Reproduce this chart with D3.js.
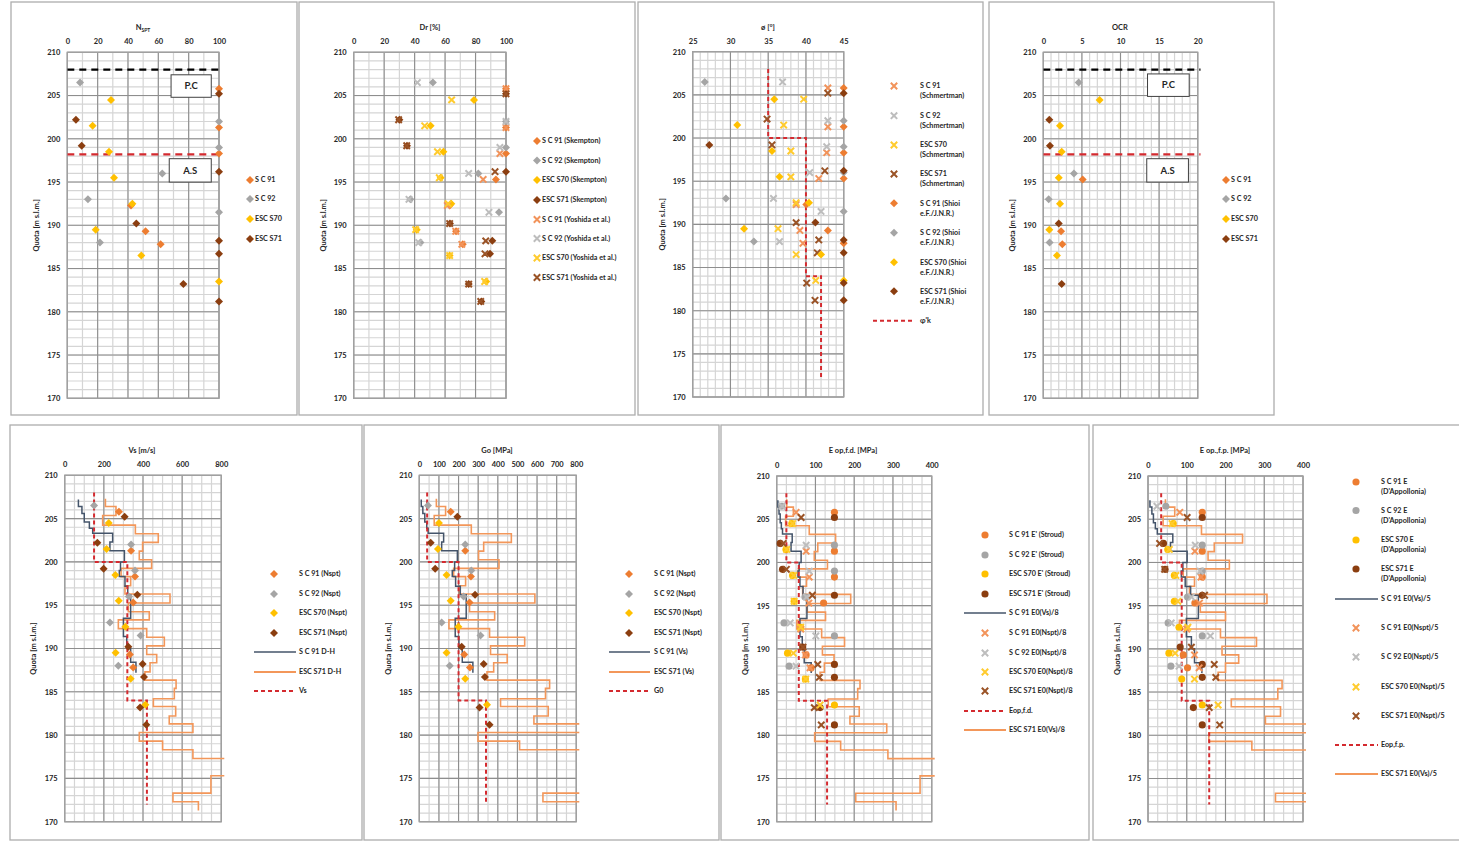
<!DOCTYPE html>
<html><head><meta charset="utf-8">
<script src="https://cdn.jsdelivr.net/npm/d3@7"></script>
<style>
body{margin:0;background:#fff;}
svg{display:block;}
</style></head><body>
<svg id="c" width="1459" height="843"></svg>
<script>
// ---------------- DATA ----------------
// sample depths (Quota, m s.l.m.) per borehole
const depthSC91 = [205.8, 201.3, 198.3, 195.3, 192.3, 189.3, 187.8];
const depthSC92 = [206.5, 202.0, 199.0, 196.0, 193.0, 191.5, 188.0];
const depthS70  = [204.5, 201.5, 198.5, 195.5, 192.5, 189.5, 186.5, 183.5];
const depthS71  = [205.2, 202.2, 199.2, 196.2, 190.2, 188.2, 186.7, 183.2, 181.2];

// N_SPT
const nsptSC91 = [100, 100, 100, null, 42, 51.6, 61.5];
const nsptSC92 = [8.4, 100, 100, 62.6, 13.6, 100, 21.5];
const nsptS70  = [28.8, 16.7, 27.5, 30.8, 42.9, 18.7, 48.8, 100];
const nsptS71  = [100, 5.7, 9.5, 100, 45.5, 100, 100, 76.5, 100];

// Dr [%]
const drSkSC91 = [100, 100, 100, 93.4, 63, 67.2, 71.6];
const drSkSC92 = [52, 100, 100, 81.8, 37.2, 95.4, 43.8];
const drSkS70  = [79, 50.5, 58.9, 57.1, 64.1, 41.4, 63, 87];
const drSkS71  = [100, 30, 35, 100, 63.2, 91, 89.5, 75.5, 83.8];
const drYoSC91 = [100, 100, 96, 85, 61.5, 67, 71];
const drYoSC92 = [41.8, 100, 96, 75.5, 36.3, 88.8, 42.7];
const drYoS70  = [64.3, 46.6, 55, 56.2, 62, 40.7, 63, 86];
const drYoS71  = [100, 29.5, 34.8, 92.8, 63, 86.7, 86.2, 75.5, 83.4];

// phi [deg]
const phiSchSC91 = [42.9, 42.9, 42.75, 41.7, 38.7, 39.2, 39.6];
const phiSchSC92 = [36.9, 42.9, 42.75, 40.5, 35.7, 42.0, 36.5];
const phiSchS70  = [39.7, 37.05, 38.0, 38.0, 38.7, 36.3, 38.7, 41.3];
const phiSchS71  = [42.9, 34.85, 35.5, 42.5, 38.7, 41.7, 41.5, 40.1, 41.2];
const phiShSC91  = [45, 45, 45, 45, 40.05, 42.9, 45];
const phiShSC92  = [26.6, 45, 45, 45, 29.4, 45, 33.1];
const phiShS70   = [35.8, 30.9, 35.5, 36.5, 40.4, 31.8, 42.0, 45];
const phiShS71   = [45, null, 27.2, 45, 41.25, 45, 45, 45, 45];
const phiKDepths = [208, 200, 184, 172];
const phiKValues = [35, 40, 42];

// OCR
const ocrSC91 = [null, null, null, 5.1, null, 2.3, 2.46];
const ocrSC92 = [4.58, null, null, 3.97, 0.7, null, 0.82];
const ocrS70  = [7.3, 2.16, 2.38, 2.0, 2.16, 0.78, 1.77, null];
const ocrS71  = [null, 0.78, 0.86, null, 2.0, null, null, 2.38, null];

// reference levels
const levelPC = 208.0;
const levelAS = 198.2;

// Vs [m/s] from Nspt
const vsSC91 = [277, 339, 359, 350, null, 333, 350];
const vsSC92 = [150, 339, 359, 328, 231, 388, 274];
const vsS70  = [225, 214, 259, 276, 310, 260, 337, 412];
const vsS71  = [306, 167, 199, 371, 325, 398, 405, 385, 417];

// Go [MPa] from Nspt
const goSC91 = [160, 234, 263, 256, null, 229, 258];
const goSC92 = [44, 234, 265, 226, 114, 312, 155];
const goS70  = [100, 95, 139, 160, 199, 139, 234, 345];
const goS71  = [194, 58, 81, 284, 216, 328, 334, 307, 358];

// E op,f.d.: E' Stroud and E0(Nspt)/8
const eStSC91 = [149, 149, 149, 121, null, 76, 89];
const eStSC92 = [13, 149, 149, 73, 19, 149, 32];
const eStS70  = [39, 24, 41, 45, 62, 28, 74, 149];
const eStS71  = [149, 9, 15, 149, 67, 149, 149, 112, 149];
const e8SC91  = [50, 76, 84, 83, 62, 74, 86];
const e8SC92  = [14, 76, 84, 77, 35, 101, 50];
const e8S70   = [41, 26, 44, 45, 62, 43, 75, 112];
const e8S71   = [63, 17, 25, 92, 68, 106, 110, 97, 115];

// E op,f.p.: E D'Appollonia and E0(Nspt)/5
const eDaSC91 = [140, 140, 140, 121, null, 91, 102];
const eDaSC92 = [46, 140, 140, 102, 52, 140, 59];
const eDaS70  = [65, 51, 68, 68, 80, 54, 87, 140];
const eDaS71  = [140, 40, 44, 140, 83, 140, 140, 117, 140];
const e5SC91  = [82, 121, 137, 133, 100, 120, 132];
const e5SC92  = [23, 122, 135, 112, 60, 161, 80];
const e5S70   = [62, 55, 72, 77, 103, 70, 120, 181];
const e5S71   = [101, 30, 43, 146, 112, 171, 175, 158, 185];

// design profiles (step)
const designDepths = [208, 200, 184, 172];
const vsDesign  = [150, 320, 420];
const goDesign  = [40, 200, 340];
const eopFd     = [25, 57, 130];
const eopFp     = [34, 87, 158];

// S C 91 down-hole profile (step boundaries + values)
const dhSC91Depths = [207.2, 206.4, 205.6, 204.6, 203.9, 203.3, 202.3, 201.3, 200.0, 199.0, 198.3, 197.2, 196.2, 193.5, 191.4, 190.0, 188.4, 187.2];
const dhSC91Vs  = [70, 88, 100, 126, 143, 245, 231, 305, 285, 279, 308, 322, 337, 300, 317, 337, 364];
const dhSC91Go  = [10, 18, 28, 38, 45, 124, 114, 194, 180, 168, 185, 209, 239, 183, 202, 219, 273];
const dhSC91E8  = [3, 6, 9, 12, 15, 40, 37, 63, 58, 55, 60, 68, 78, 60, 66, 71, 89];
const dhSC91E5  = [5, 10, 14, 19, 24, 64, 58, 101, 90, 86, 96, 110, 130, 99, 112, 120, 139];

// ESC S71 down-hole profile
const dhS71Depths = [207.3, 206.4, 205.35, 204.25, 203.25, 202.25, 201.25, 200.25, 199.25, 198.3, 197.25, 196.3, 195.25, 194.25, 193.3, 192.3, 191.3, 190.3, 189.3, 188.35, 187.3, 186.35, 185.4, 184.2, 183.3, 182.2, 181.3, 180.3, 179.3, 178.3, 177.3, 175.3, 173.3, 172.3, 171.3];
const dhS71Vs = [208, 262, 194, 361, 478, 398, 381, 444, 288, 337, 308, 538, 325, 432, 274, 419, 509, 419, 470, 436, 410, 569, 560, 453, 567, 534, 655, 381, 500, 655, 850, 747, 553, 683];
const dhS71Go = [87, 134, 76, 265, 469, 328, 302, 406, 175, 236, 205, 589, 256, 384, 151, 358, 537, 363, 448, 379, 345, 664, 643, 414, 657, 584, 1100, 299, 511, 1100, 1100, 1100, 630, 1000];
const dhS71E8 = [26, 43, 23, 84, 152, 106, 97, 131, 56, 77, 67, 191, 79, 126, 52, 116, 175, 118, 148, 123, 112, 215, 209, 133, 213, 189, 284, 98, 165, 287, 450, 370, 204, 308];
const dhS71E5 = [45, 69, 39, 138, 244, 171, 155, 210, 91, 120, 107, 307, 135, 200, 81, 187, 280, 191, 234, 200, 181, 346, 335, 215, 342, 303, 500, 157, 268, 600, 600, 600, 329, 500];

// ---------------- STYLE ----------------
const FONT = "Lato, 'Liberation Sans', Arial, sans-serif";
const C  = {sc91: '#ED7D31', sc92: '#A5A5A5', s70: '#FFC000', s71: '#8B3E10'};
const CX = {sc91: '#F2935A', sc92: '#BDBDBD', s70: '#FFCB2E', s71: '#9A5326'};
const SLATE = '#44546A', ORANGE_LINE = '#F3975A', RED = '#D42A2F';
const TXT = '#262626';

const svg = d3.select('#c');
const defs = svg.append('defs');
let clipN = 0;

function makePanel(p) {
  const g = svg.append('g').attr('font-family', FONT);
  const [fx, fy, fw, fh] = p.frame;
  g.append('rect').attr('x', fx).attr('y', fy).attr('width', fw).attr('height', fh)
    .attr('fill', '#fff').attr('stroke', '#ADADAD').attr('stroke-width', 1.3);
  const [x0, y0, x1, y1] = p.plot;
  const x = d3.scaleLinear().domain(p.xDomain).range([x0, x1]);
  const y = d3.scaleLinear().domain([170, 210]).range([y1, y0]);
  const eps = 1e-9;
  const xMinor = d3.range(p.xDomain[0], p.xDomain[1] + eps, p.xMinor);
  const xMajor = d3.range(p.xDomain[0], p.xDomain[1] + eps, p.xMajor);
  const yMinor = d3.range(170, 210 + eps, 1);
  const yMajor = d3.range(170, 210 + eps, 5);
  const grid = g.append('g');
  grid.selectAll(null).data(xMinor).join('line')
    .attr('x1', d => x(d)).attr('x2', d => x(d)).attr('y1', y0).attr('y2', y1)
    .attr('stroke', '#D5D5D5').attr('stroke-width', 1.2);
  grid.selectAll(null).data(yMinor).join('line')
    .attr('y1', d => y(d)).attr('y2', d => y(d)).attr('x1', x0).attr('x2', x1)
    .attr('stroke', '#D5D5D5').attr('stroke-width', 1.2);
  grid.selectAll(null).data(xMajor).join('line')
    .attr('x1', d => x(d)).attr('x2', d => x(d)).attr('y1', y0).attr('y2', y1)
    .attr('stroke', '#8E8E8E').attr('stroke-width', 1.1);
  grid.selectAll(null).data(yMajor).join('line')
    .attr('y1', d => y(d)).attr('y2', d => y(d)).attr('x1', x0).attr('x2', x1)
    .attr('stroke', '#8E8E8E').attr('stroke-width', 1.1);
  g.append('rect').attr('x', x0).attr('y', y0).attr('width', x1 - x0).attr('height', y1 - y0)
    .attr('fill', 'none').attr('stroke', '#A0A0A0').attr('stroke-width', 1.4);

  const ax = g.append('g').attr('transform', `translate(0,${y0})`)
    .call(d3.axisTop(x).tickValues(p.xTicks).tickSize(0).tickPadding(8));
  ax.select('.domain').remove();
  ax.selectAll('text').attr('font-size', 7.5).attr('font-weight', 'bold')
    .attr('font-family', FONT).attr('fill', TXT);
  const ay = g.append('g').attr('transform', `translate(${x0},0)`)
    .call(d3.axisLeft(y).tickValues(yMajor).tickSize(0).tickPadding(7));
  ay.select('.domain').remove();
  ay.selectAll('text').attr('font-size', 7.5).attr('font-weight', 'bold')
    .attr('font-family', FONT).attr('fill', TXT);

  // title
  const t = g.append('text').attr('x', p.title[0]).attr('y', p.title[1])
    .attr('text-anchor', 'middle').attr('font-size', 7.5).attr('font-weight', 'bold').attr('fill', TXT);
  if (p.titleSub) {
    t.append('tspan').text(p.titleText);
    t.append('tspan').attr('font-size', 5).attr('dy', 2).text(p.titleSub);
  } else t.text(p.titleText);
  // y label
  const cy = (y0 + y1) / 2;
  g.append('text').attr('transform', `translate(${p.ylabX},${cy}) rotate(-90)`)
    .attr('text-anchor', 'middle').attr('font-size', 7.5).attr('font-weight', 'bold').attr('fill', TXT)
    .text('Quota [m s.l.m.]');

  const id = 'clip' + (clipN++);
  defs.append('clipPath').attr('id', id).append('rect')
    .attr('x', x0).attr('y', y0 - 2).attr('width', x1 - x0 + 3).attr('height', y1 - y0 + 4);
  const lineG = g.append('g').attr('clip-path', `url(#${id})`);
  const markG = g.append('g');
  return {g, x, y, lineG, markG};
}

function shapePath(kind) {
  if (kind === 'diamond') return 'M0,-4L4,0L0,4L-4,0Z';
  if (kind === 'circle') return d3.symbol(d3.symbolCircle, 40)();
  if (kind === 'x') return 'M-3.2,-3.2L3.2,3.2M-3.2,3.2L3.2,-3.2';
  return '';
}
function styleShape(sel, kind, color) {
  if (kind === 'x') sel.attr('fill', 'none').attr('stroke', color).attr('stroke-width', 2);
  else sel.attr('fill', color).attr('stroke', 'none');
}

function markers(P, depths, vals, kind, color) {
  const data = depths.map((d, i) => ({d, v: vals[i]})).filter(o => o.v != null);
  const sel = P.markG.selectAll(null).data(data).join('path')
    .attr('transform', o => `translate(${P.x(o.v)},${P.y(o.d)})`)
    .attr('d', shapePath(kind));
  styleShape(sel, kind, color);
}

function stepLine(P, depths, vals, color, width, dash) {
  const pts = [];
  vals.forEach((v, i) => { pts.push([v, depths[i]]); pts.push([v, depths[i + 1]]); });
  const path = P.lineG.append('path').datum(pts)
    .attr('d', d3.line().x(p => P.x(p[0])).y(p => P.y(p[1])))
    .attr('fill', 'none').attr('stroke', color).attr('stroke-width', width);
  if (dash) path.attr('stroke-dasharray', dash);
}

function hLevel(P, level, color, dash, width) {
  const dom = P.x.domain();
  P.lineG.append('line').attr('x1', P.x(dom[0])).attr('x2', P.x(dom[1]) + 3)
    .attr('y1', P.y(level)).attr('y2', P.y(level))
    .attr('stroke', color).attr('stroke-width', width).attr('stroke-dasharray', dash);
}

function box(P, xa, xb, ya, yb, label) {
  P.markG.append('rect').attr('x', P.x(xa)).attr('y', P.y(ya))
    .attr('width', P.x(xb) - P.x(xa)).attr('height', P.y(yb) - P.y(ya))
    .attr('fill', '#fff').attr('stroke', '#404040').attr('stroke-width', 1);
  P.markG.append('text').attr('x', (P.x(xa) + P.x(xb)) / 2).attr('y', (P.y(ya) + P.y(yb)) / 2)
    .attr('dy', '0.35em').attr('text-anchor', 'middle').attr('font-size', 9.5)
    .attr('font-weight', 'bold').attr('fill', TXT).text(label);
}

function legend(P, L, items) {
  const g = P.g.append('g');
  items.forEach(it => {
    if (it.kind === 'line' || it.kind === 'dash') {
      const ln = g.append('line').attr('x1', L.lx0).attr('x2', L.lx1).attr('y1', it.y).attr('y2', it.y)
        .attr('stroke', it.color).attr('stroke-width', it.w || 2);
      if (it.kind === 'dash') ln.attr('stroke-dasharray', '4,3');
    } else {
      const s = g.append('path').attr('transform', `translate(${L.mx},${it.y})`).attr('d', shapePath(it.kind));
      styleShape(s, it.kind, it.color);
    }
    const lines = Array.isArray(it.label) ? it.label : [it.label];
    const t = g.append('text').attr('x', L.tx).attr('y', it.y).attr('dy', '0.33em')
      .attr('font-size', 7.2).attr('font-weight', 'bold').attr('fill', TXT);
    lines.forEach((s, i) => t.append('tspan').attr('x', L.tx).attr('dy', i === 0 ? '0.33em' : 10).text(s));
  });
}

// ---------------- PANEL 1 : N_SPT ----------------
{
  const P = makePanel({frame: [11, 2, 286, 413], plot: [67.3, 52.3, 219, 398.3], xDomain: [0, 100],
    xTicks: d3.range(0, 101, 20), xMinor: 10, xMajor: 20, title: [143, 30], titleText: 'N', titleSub: 'SPT', ylabX: 39});
  hLevel(P, levelPC, '#000', '7,5', 2.3);
  hLevel(P, levelAS, RED, '7,5', 2.3);
  box(P, 68.4, 94.9, 207.4, 204.8, 'P.C');
  box(P, 67.2, 94.9, 197.7, 195.0, 'A.S');
  markers(P, depthSC91, nsptSC91, 'diamond', C.sc91);
  markers(P, depthSC92, nsptSC92, 'diamond', C.sc92);
  markers(P, depthS70, nsptS70, 'diamond', C.s70);
  markers(P, depthS71, nsptS71, 'diamond', C.s71);
  legend(P, {mx: 250, tx: 255}, [
    {y: 180, kind: 'diamond', color: C.sc91, label: 'S C 91'},
    {y: 199, kind: 'diamond', color: C.sc92, label: 'S C 92'},
    {y: 219, kind: 'diamond', color: C.s70, label: 'ESC S70'},
    {y: 239, kind: 'diamond', color: C.s71, label: 'ESC S71'}]);
}

// ---------------- PANEL 2 : Dr ----------------
{
  const P = makePanel({frame: [299, 2, 336, 413], plot: [353.7, 52.3, 506, 398.3], xDomain: [0, 100],
    xTicks: d3.range(0, 101, 20), xMinor: 10, xMajor: 20, title: [430, 30], titleText: 'Dr [%]', ylabX: 326});
  markers(P, depthSC91, drSkSC91, 'diamond', C.sc91);
  markers(P, depthSC92, drSkSC92, 'diamond', C.sc92);
  markers(P, depthS70, drSkS70, 'diamond', C.s70);
  markers(P, depthS71, drSkS71, 'diamond', C.s71);
  markers(P, depthSC91, drYoSC91, 'x', CX.sc91);
  markers(P, depthSC92, drYoSC92, 'x', CX.sc92);
  markers(P, depthS70, drYoS70, 'x', CX.s70);
  markers(P, depthS71, drYoS71, 'x', CX.s71);
  legend(P, {mx: 537, tx: 542}, [
    {y: 141, kind: 'diamond', color: C.sc91, label: 'S C 91 (Skempton)'},
    {y: 160.5, kind: 'diamond', color: C.sc92, label: 'S C 92 (Skempton)'},
    {y: 180, kind: 'diamond', color: C.s70, label: 'ESC S70 (Skempton)'},
    {y: 200, kind: 'diamond', color: C.s71, label: 'ESC S71 (Skempton)'},
    {y: 219.5, kind: 'x', color: CX.sc91, label: 'S C 91 (Yoshida et al.)'},
    {y: 238.5, kind: 'x', color: CX.sc92, label: 'S C 92 (Yoshida et al.)'},
    {y: 258, kind: 'x', color: CX.s70, label: 'ESC S70 (Yoshida et al.)'},
    {y: 277.5, kind: 'x', color: CX.s71, label: 'ESC S71 (Yoshida et al.)'}]);
}

// ---------------- PANEL 3 : phi ----------------
{
  const P = makePanel({frame: [638, 2, 345, 413], plot: [692.7, 51.7, 843.7, 397], xDomain: [25, 45],
    xTicks: d3.range(25, 46, 5), xMinor: 1, xMajor: 5, title: [768, 30], titleText: 'ø [°]', ylabX: 665});
  stepLine(P, phiKDepths, phiKValues, RED, 2, '4,3');
  markers(P, depthSC91, phiSchSC91, 'x', CX.sc91);
  markers(P, depthSC92, phiSchSC92, 'x', CX.sc92);
  markers(P, depthS70, phiSchS70, 'x', CX.s70);
  markers(P, depthS71, phiSchS71, 'x', CX.s71);
  markers(P, depthSC91, phiShSC91, 'diamond', C.sc91);
  markers(P, depthSC92, phiShSC92, 'diamond', C.sc92);
  markers(P, depthS70, phiShS70, 'diamond', C.s70);
  markers(P, depthS71, phiShS71, 'diamond', C.s71);
  legend(P, {mx: 894, tx: 920, lx0: 873, lx1: 915}, [
    {y: 86, kind: 'x', color: CX.sc91, label: ['S C 91', '(Schmertman)']},
    {y: 115.7, kind: 'x', color: CX.sc92, label: ['S C 92', '(Schmertman)']},
    {y: 145, kind: 'x', color: CX.s70, label: ['ESC S70', '(Schmertman)']},
    {y: 174, kind: 'x', color: CX.s71, label: ['ESC S71', '(Schmertman)']},
    {y: 203.3, kind: 'diamond', color: C.sc91, label: ['S C 91 (Shioi', 'e.F./J.N.R.)']},
    {y: 232.7, kind: 'diamond', color: C.sc92, label: ['S C 92 (Shioi', 'e.F./J.N.R.)']},
    {y: 262.3, kind: 'diamond', color: C.s70, label: ['ESC S70 (Shioi', 'e.F./J.N.R.)']},
    {y: 291.3, kind: 'diamond', color: C.s71, label: ['ESC S71 (Shioi', 'e.F./J.N.R.)']},
    {y: 320.7, kind: 'dash', color: RED, label: "φ'k"}]);
}

// ---------------- PANEL 4 : OCR ----------------
{
  const P = makePanel({frame: [989, 2, 285, 413], plot: [1043.3, 52.3, 1197.7, 398.3], xDomain: [0, 20],
    xTicks: d3.range(0, 21, 5), xMinor: 1, xMajor: 5, title: [1120, 30], titleText: 'OCR', ylabX: 1015});
  hLevel(P, levelPC, '#000', '7,5', 2.3);
  hLevel(P, levelAS, RED, '7,5', 2.3);
  box(P, 13.5, 18.9, 207.5, 204.9, 'P.C');
  box(P, 13.4, 18.8, 197.7, 195.0, 'A.S');
  markers(P, depthSC91, ocrSC91, 'diamond', C.sc91);
  markers(P, depthSC92, ocrSC92, 'diamond', C.sc92);
  markers(P, depthS70, ocrS70, 'diamond', C.s70);
  markers(P, depthS71, ocrS71, 'diamond', C.s71);
  legend(P, {mx: 1226, tx: 1231}, [
    {y: 180, kind: 'diamond', color: C.sc91, label: 'S C 91'},
    {y: 199, kind: 'diamond', color: C.sc92, label: 'S C 92'},
    {y: 219, kind: 'diamond', color: C.s70, label: 'ESC S70'},
    {y: 239, kind: 'diamond', color: C.s71, label: 'ESC S71'}]);
}

// ---------------- PANEL 5 : Vs ----------------
{
  const P = makePanel({frame: [10, 425, 352, 415], plot: [64.7, 475.3, 221.3, 821.7], xDomain: [0, 800],
    xTicks: d3.range(0, 801, 200), xMinor: 50, xMajor: 200, title: [142, 453], titleText: 'Vs [m/s]', ylabX: 36});
  stepLine(P, dhS71Depths, dhS71Vs, ORANGE_LINE, 1.6);
  stepLine(P, dhSC91Depths, dhSC91Vs, SLATE, 1.5);
  stepLine(P, designDepths, vsDesign, RED, 2, '4,3');
  markers(P, depthSC91, vsSC91, 'diamond', C.sc91);
  markers(P, depthSC92, vsSC92, 'diamond', C.sc92);
  markers(P, depthS70, vsS70, 'diamond', C.s70);
  markers(P, depthS71, vsS71, 'diamond', C.s71);
  legend(P, {mx: 274, tx: 299, lx0: 254, lx1: 296}, [
    {y: 574, kind: 'diamond', color: C.sc91, label: 'S C 91 (Nspt)'},
    {y: 594, kind: 'diamond', color: C.sc92, label: 'S C 92 (Nspt)'},
    {y: 613, kind: 'diamond', color: C.s70, label: 'ESC S70 (Nspt)'},
    {y: 633, kind: 'diamond', color: C.s71, label: 'ESC S71 (Nspt)'},
    {y: 652, kind: 'line', color: SLATE, w: 1.5, label: 'S C 91  D-H'},
    {y: 672, kind: 'line', color: ORANGE_LINE, w: 2, label: 'ESC S71 D-H'},
    {y: 691, kind: 'dash', color: RED, label: 'Vs'}]);
}

// ---------------- PANEL 6 : Go ----------------
{
  const P = makePanel({frame: [364, 425, 355, 415], plot: [419.3, 475.3, 576.3, 821.7], xDomain: [0, 800],
    xTicks: d3.range(0, 801, 100), xMinor: 50, xMajor: 100, title: [497, 453], titleText: 'Go [MPa]', ylabX: 391});
  stepLine(P, dhS71Depths, dhS71Go, ORANGE_LINE, 1.6);
  stepLine(P, dhSC91Depths, dhSC91Go, SLATE, 1.5);
  stepLine(P, designDepths, goDesign, RED, 2, '4,3');
  markers(P, depthSC91, goSC91, 'diamond', C.sc91);
  markers(P, depthSC92, goSC92, 'diamond', C.sc92);
  markers(P, depthS70, goS70, 'diamond', C.s70);
  markers(P, depthS71, goS71, 'diamond', C.s71);
  legend(P, {mx: 629, tx: 654, lx0: 609, lx1: 650}, [
    {y: 574, kind: 'diamond', color: C.sc91, label: 'S C 91 (Nspt)'},
    {y: 594, kind: 'diamond', color: C.sc92, label: 'S C 92 (Nspt)'},
    {y: 613, kind: 'diamond', color: C.s70, label: 'ESC S70 (Nspt)'},
    {y: 633, kind: 'diamond', color: C.s71, label: 'ESC S71 (Nspt)'},
    {y: 652, kind: 'line', color: SLATE, w: 1.5, label: 'S C 91  (Vs)'},
    {y: 672, kind: 'line', color: ORANGE_LINE, w: 2, label: 'ESC S71 (Vs)'},
    {y: 691, kind: 'dash', color: RED, label: 'G0'}]);
}

// ---------------- PANEL 7 : E op,f.d. ----------------
{
  const P = makePanel({frame: [721, 425, 368, 415], plot: [776.7, 476, 931.7, 821.7], xDomain: [0, 400],
    xTicks: d3.range(0, 401, 100), xMinor: 25, xMajor: 100, title: [853, 453], titleText: 'E op,f.d.  [MPa]', ylabX: 748});
  stepLine(P, dhS71Depths, dhS71E8, ORANGE_LINE, 1.6);
  stepLine(P, dhSC91Depths, dhSC91E8, SLATE, 1.5);
  stepLine(P, designDepths, eopFd, RED, 2, '4,3');
  markers(P, depthSC91, eStSC91, 'circle', C.sc91);
  markers(P, depthSC92, eStSC92, 'circle', C.sc92);
  markers(P, depthS70, eStS70, 'circle', C.s70);
  markers(P, depthS71, eStS71, 'circle', C.s71);
  markers(P, depthSC91, e8SC91, 'x', CX.sc91);
  markers(P, depthSC92, e8SC92, 'x', CX.sc92);
  markers(P, depthS70, e8S70, 'x', CX.s70);
  markers(P, depthS71, e8S71, 'x', CX.s71);
  legend(P, {mx: 985, tx: 1009, lx0: 964, lx1: 1006}, [
    {y: 535, kind: 'circle', color: C.sc91, label: "S C 91 E' (Stroud)"},
    {y: 555, kind: 'circle', color: C.sc92, label: "S C 92 E' (Stroud)"},
    {y: 574, kind: 'circle', color: C.s70, label: "ESC S70 E' (Stroud)"},
    {y: 594, kind: 'circle', color: C.s71, label: "ESC S71 E' (Stroud)"},
    {y: 613, kind: 'line', color: SLATE, w: 1.5, label: 'S C 91  E0(Vs)/8'},
    {y: 633, kind: 'x', color: CX.sc91, label: 'S C 91 E0(Nspt)/8'},
    {y: 653, kind: 'x', color: CX.sc92, label: 'S C 92 E0(Nspt)/8'},
    {y: 672, kind: 'x', color: CX.s70, label: 'ESC S70 E0(Nspt)/8'},
    {y: 691, kind: 'x', color: CX.s71, label: 'ESC S71 E0(Nspt)/8'},
    {y: 711, kind: 'dash', color: RED, label: 'Eop,f.d.'},
    {y: 730, kind: 'line', color: ORANGE_LINE, w: 2, label: 'ESC S71 E0(Vs)/8'}]);
}

// ---------------- PANEL 8 : E op,f.p. ----------------
{
  const P = makePanel({frame: [1093, 425, 372, 415], plot: [1148, 476, 1303, 821.7], xDomain: [0, 400],
    xTicks: d3.range(0, 401, 100), xMinor: 25, xMajor: 100, title: [1225, 453], titleText: 'E op.,f.p. [MPa]', ylabX: 1120});
  stepLine(P, dhS71Depths, dhS71E5, ORANGE_LINE, 1.6);
  stepLine(P, dhSC91Depths, dhSC91E5, SLATE, 1.5);
  stepLine(P, designDepths, eopFp, RED, 2, '4,3');
  markers(P, depthSC91, eDaSC91, 'circle', C.sc91);
  markers(P, depthSC92, eDaSC92, 'circle', C.sc92);
  markers(P, depthS70, eDaS70, 'circle', C.s70);
  markers(P, depthS71, eDaS71, 'circle', C.s71);
  markers(P, depthSC91, e5SC91, 'x', CX.sc91);
  markers(P, depthSC92, e5SC92, 'x', CX.sc92);
  markers(P, depthS70, e5S70, 'x', CX.s70);
  markers(P, depthS71, e5S71, 'x', CX.s71);
  legend(P, {mx: 1356, tx: 1381, lx0: 1335, lx1: 1378}, [
    {y: 482, kind: 'circle', color: C.sc91, label: ['S C 91 E', "(D'Appollonia)"]},
    {y: 510.5, kind: 'circle', color: C.sc92, label: ['S C 92 E', "(D'Appollonia)"]},
    {y: 540, kind: 'circle', color: C.s70, label: ['ESC S70 E', "(D'Appollonia)"]},
    {y: 569, kind: 'circle', color: C.s71, label: ['ESC S71 E', "(D'Appollonia)"]},
    {y: 599, kind: 'line', color: SLATE, w: 1.5, label: 'S C 91  E0(Vs)/5'},
    {y: 628, kind: 'x', color: CX.sc91, label: 'S C 91 E0(Nspt)/5'},
    {y: 657, kind: 'x', color: CX.sc92, label: 'S C 92 E0(Nspt)/5'},
    {y: 687, kind: 'x', color: CX.s70, label: 'ESC S70 E0(Nspt)/5'},
    {y: 716, kind: 'x', color: CX.s71, label: 'ESC S71 E0(Nspt)/5'},
    {y: 745, kind: 'dash', color: RED, label: 'Eop,f.p.'},
    {y: 774, kind: 'line', color: ORANGE_LINE, w: 2, label: 'ESC S71 E0(Vs)/5'}]);
}
</script>
</body></html>
